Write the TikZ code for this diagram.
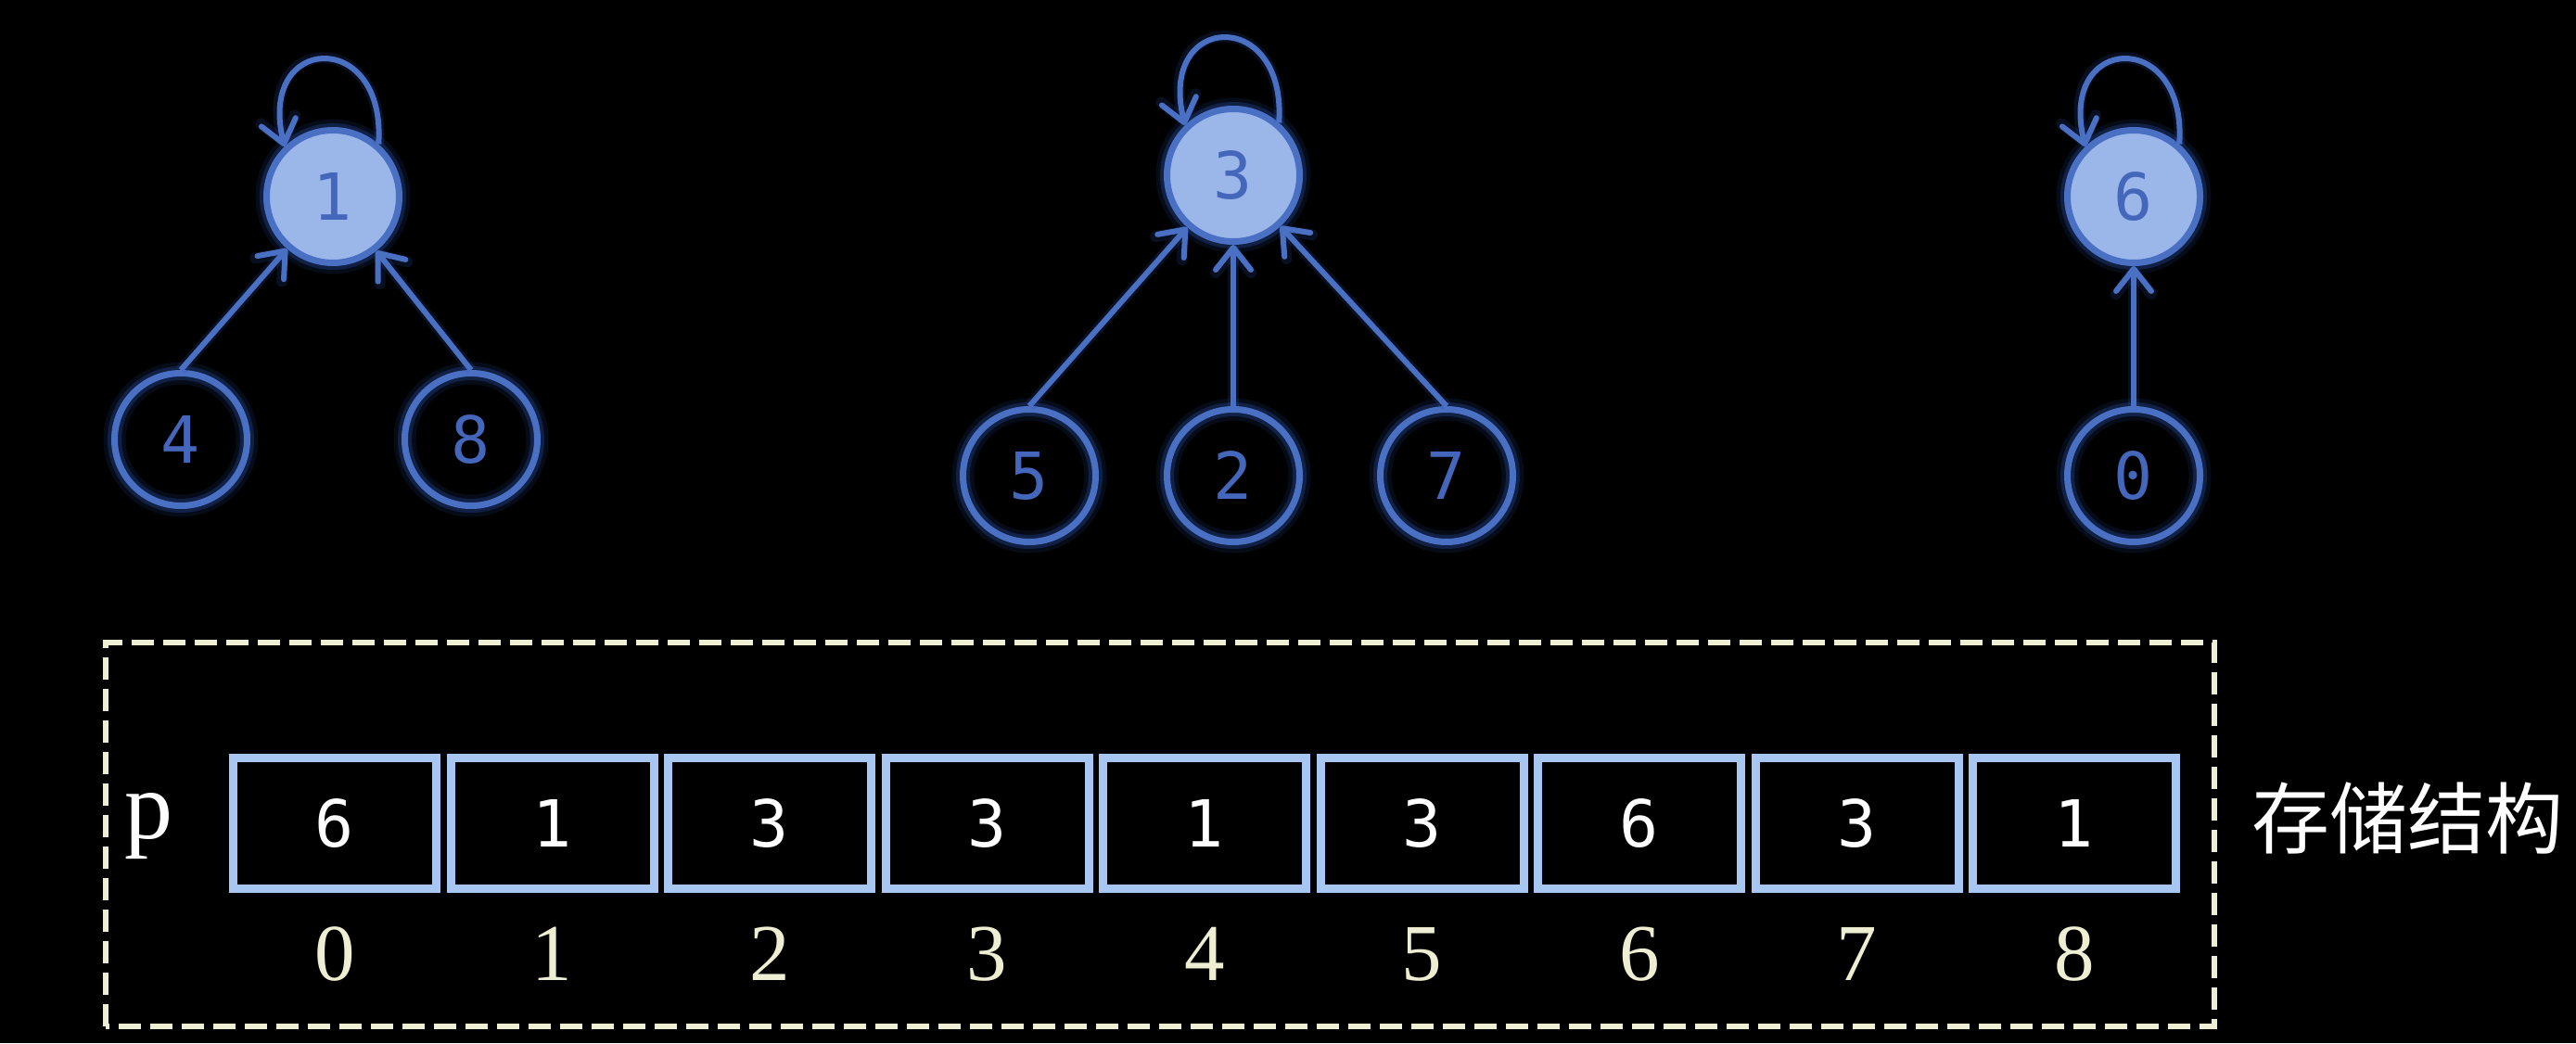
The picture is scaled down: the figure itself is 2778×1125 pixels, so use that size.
\documentclass[tikz,border=0pt]{standalone}
\usepackage{fontspec}
\setmainfont{Liberation Serif}
\newfontfamily\digitfont{DejaVu Sans Mono}
\newfontfamily\cjkfont{Noto Sans CJK SC}
\usetikzlibrary{arrows.meta}

\definecolor{ringblue}{HTML}{4A70C4}
\definecolor{rootfill}{HTML}{9BB7EA}
\definecolor{digitblue}{HTML}{4467BB}
\definecolor{glowblue}{HTML}{2A4DA6}
\definecolor{cellblue}{HTML}{A8C6F2}
\definecolor{cream}{HTML}{EEEED2}

\begin{document}
\begin{tikzpicture}[x=1pt,y=1pt,
  vertex/.style={circle, draw=ringblue, line width=7pt, minimum size=143pt, inner sep=0pt,
     text=digitblue, font=\digitfont\fontsize{70}{70}\selectfont,
     preaction={draw=glowblue, line width=24pt, opacity=0.15},
     preaction={draw=glowblue, line width=15pt, opacity=0.32}},
  root/.style={vertex, fill=rootfill},
  link/.style={draw=ringblue, line width=6pt,
     preaction={draw=glowblue, line width=12pt, opacity=0.2},
     -{Straight Barb[length=24pt,width=38pt,round]}},
  loopcurve/.style={out=86, in=104, distance=126pt},
  cell/.style={draw=cellblue, line width=9pt, minimum width=219pt, minimum height=141pt,
     inner sep=0pt, text=white, font=\digitfont\fontsize{70}{70}\selectfont},
  idx/.style={text=cream, font=\fontsize{87}{87}\selectfont, anchor=base, inner sep=0pt},
]
% canvas
\fill[black] (0,0) rectangle (2778,1125);
\useasboundingbox (0,0) rectangle (2778,1125);

% first tree: root 1
\node[root]   (n1) at (359,913) {1};
\node[vertex] (n4) at (195,651) {4};
\node[vertex] (n8) at (508,651) {8};

% second tree: root 3
\node[root]   (n3) at (1330,936) {3};
\node[vertex] (n5) at (1110,612) {5};
\node[vertex] (n2) at (1330,612) {2};
\node[vertex] (n7) at (1560,612) {7};

% third tree: root 6
\node[root]   (n6) at (2301,913) {6};
\node[vertex] (n0) at (2301,612) {0};

% parent pointers
\draw[link] (n4.north) -- (n1);
\draw[link] (n8.north) -- (n1);
\draw[link] (n5.north) -- (n3);
\draw[link] (n2) -- (n3);
\draw[link] (n7.north) -- (n3);
\draw[link] (n0) -- (n6);

% roots point to themselves
\draw[link] (n1.49) to[loopcurve] (n1.134);
\draw[link] (n3.49) to[loopcurve] (n3.134);
\draw[link] (n6.49) to[loopcurve] (n6.134);

% storage array
\draw[cream, line width=6pt, dash pattern=on 24pt off 10pt] (114,18) rectangle (2388,432);
\node[anchor=base, text=white, font=\fontsize{104}{104}\selectfont, inner sep=0pt] (plabel) at (160,221) {p};
\foreach \v [count=\k from 0] in {6,1,3,3,1,3,6,3,1} {
  \node[cell] (c\k) at ({361+234.5*\k},237) {\v};
  \node[idx]  (i\k) at ({361+234.5*\k},68) {\k};
}
\node[text=white, font=\cjkfont\fontsize{84}{84}\selectfont, inner sep=0pt] (caption) at (2596,242) {存储结构};
\end{tikzpicture}
\end{document}
